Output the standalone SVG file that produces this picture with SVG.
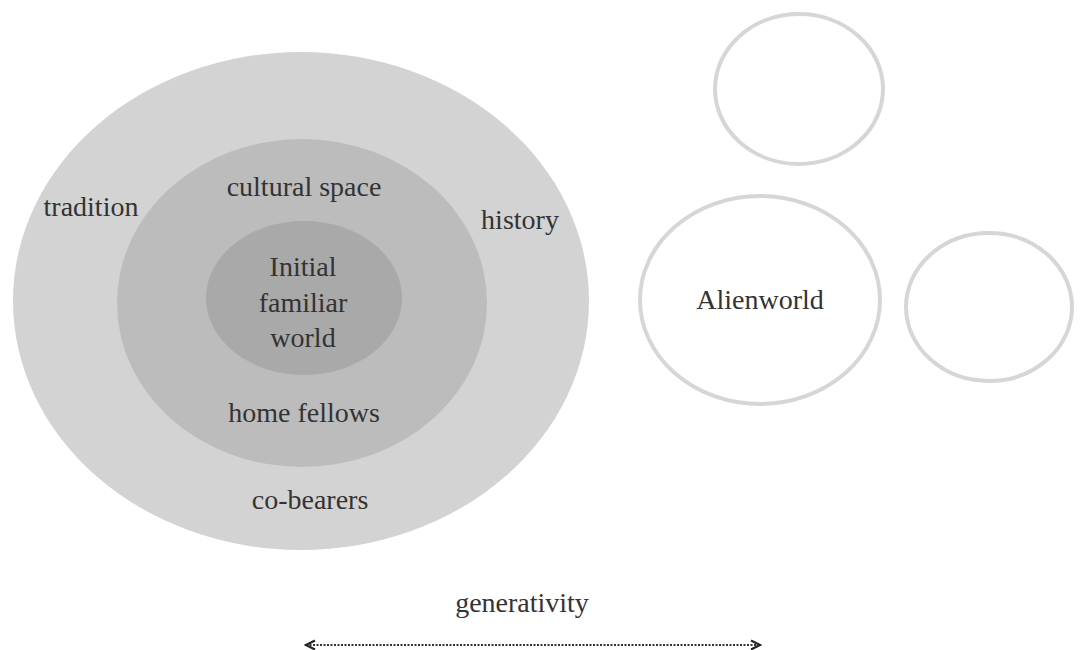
<svg xmlns="http://www.w3.org/2000/svg" width="1083" height="650" viewBox="0 0 1083 650">
<style>
text{font-family:"Liberation Serif","Times New Roman",serif;font-size:28px;fill:#333;text-anchor:middle}
.alien{fill:#fff;stroke:#d6d6d6;stroke-width:4}
</style>
<defs>
<marker id="chev" viewBox="0 0 12 12" refX="10" refY="6" markerWidth="12" markerHeight="12" markerUnits="userSpaceOnUse" orient="auto-start-reverse">
<path d="M1,1.5 L10,6 L1,10.5" fill="none" stroke="#222" stroke-width="2.2"/>
</marker>
</defs>
<rect width="1083" height="650" fill="#fff"/>
<g id="outer">
<ellipse cx="301" cy="301" rx="288" ry="249" fill="#d3d3d3"/>
<text x="91" y="216">tradition</text>
<text x="520" y="229">history</text>
<text x="310" y="509">co-bearers</text>
</g>
<g id="middle">
<ellipse cx="302" cy="303" rx="185" ry="164" fill="#bcbcbc"/>
<text x="304" y="196">cultural space</text>
<text x="304" y="422">home fellows</text>
</g>
<g id="inner">
<ellipse cx="304" cy="298" rx="98" ry="77" fill="#a9a9a9"/>
<text x="303" y="276">Initial</text>
<text x="303" y="312">familiar</text>
<text x="303" y="347">world</text>
</g>
<g id="alien-top">
<ellipse class="alien" cx="799" cy="89" rx="84" ry="75"/>
</g>
<g id="alienworld">
<ellipse class="alien" cx="760" cy="300" rx="120" ry="104"/>
<text x="760" y="309">Alienworld</text>
</g>
<g id="alien-right">
<ellipse class="alien" cx="989" cy="307" rx="83" ry="74"/>
</g>
<g id="connectors">
<line x1="306" y1="645" x2="760" y2="645" stroke="#333" stroke-width="2" stroke-dasharray="2,1.5" marker-start="url(#chev)" marker-end="url(#chev)"/>
</g>
<g id="label">
<text x="522" y="612">generativity</text>
</g>
</svg>
